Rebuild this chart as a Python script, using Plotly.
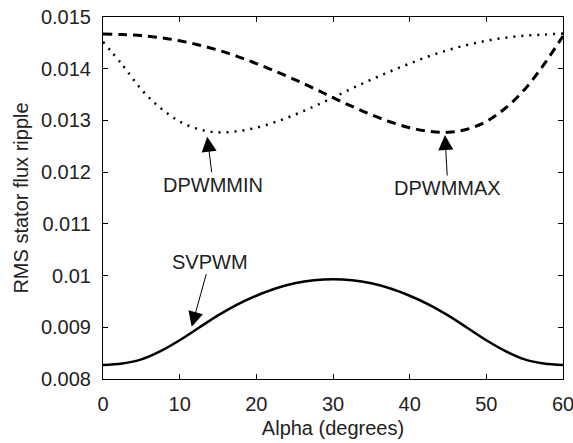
import plotly.graph_objects as go

alpha = [0, 2.5, 5, 7.5, 10, 12.5, 15, 17.5, 20, 22.5, 25, 27.5, 30,
         32.5, 35, 37.5, 40, 42.5, 45, 47.5, 50, 52.5, 55, 57.5, 60]

svpwm = [0.00827, 0.00830, 0.00838, 0.00854, 0.00875, 0.00899, 0.00923,
         0.00944, 0.00961, 0.00975, 0.00985, 0.00991, 0.00993,
         0.00991, 0.00985, 0.00975, 0.00961, 0.00944, 0.00923,
         0.00899, 0.00875, 0.00854, 0.00838, 0.00830, 0.00827]

dpwmmax = [0.01467, 0.01466, 0.01464, 0.01460, 0.01454, 0.01446, 0.01436,
           0.01424, 0.01410, 0.01395, 0.01379, 0.01362, 0.01344,
           0.01327, 0.01311, 0.01297, 0.01286, 0.01279, 0.01277,
           0.01283, 0.01298, 0.01324, 0.01360, 0.01408, 0.01463]

dpwmmin = [0.01452, 0.01408, 0.01360, 0.01324, 0.01298, 0.01283, 0.01277,
           0.01279, 0.01286, 0.01297, 0.01311, 0.01327, 0.01344,
           0.01362, 0.01379, 0.01395, 0.01410, 0.01424, 0.01436,
           0.01446, 0.01454, 0.01460, 0.01464, 0.01466, 0.01468]

x_ticks = [0, 10, 20, 30, 40, 50, 60]
y_ticks = [0.008, 0.009, 0.01, 0.011, 0.012, 0.013, 0.014, 0.015]
y_tick_text = ["0.008", "0.009", "0.01", "0.011", "0.012", "0.013", "0.014", "0.015"]

FONT = "Liberation Sans, Arial, sans-serif"
TXT = "#222222"

fig = go.Figure()
fig.add_trace(go.Scatter(x=alpha, y=svpwm, mode="lines", line=dict(color="black", width=2.5), line_shape="spline", name="SVPWM"))
fig.add_trace(go.Scatter(x=alpha, y=dpwmmax, mode="lines", line=dict(color="black", width=3, dash="9px,6px"), line_shape="spline", name="DPWMMAX"))
fig.add_trace(go.Scatter(x=alpha, y=dpwmmin, mode="lines", line=dict(color="black", width=2.5, dash="2px,6px"), line_shape="spline", name="DPWMMIN"))

ann_common = dict(showarrow=True, arrowhead=2, arrowsize=3, arrowwidth=1, arrowcolor="black",
                  font=dict(family=FONT, size=20, color=TXT))
fig.add_annotation(x=13.6, y=0.012685, ax=6, ay=48, text="DPWMMIN", **ann_common)
fig.add_annotation(x=44.6, y=0.012718, ax=3, ay=53, text="DPWMMAX", **ann_common)
fig.add_annotation(x=11.57, y=0.009012, ax=18, ay=-65, text="SVPWM", **ann_common)

axis_common = dict(showline=True, linecolor="black", linewidth=1, mirror="ticks",
                   ticks="inside", ticklen=5, tickcolor="black", showgrid=False, zeroline=False,
                   automargin=False, ticklabelstandoff=7, ticklabeloverflow="allow",
                   tickfont=dict(family=FONT, size=20, color=TXT))
fig.update_xaxes(range=[0, 60], tickvals=x_ticks,
                 title=dict(text="Alpha (degrees)", font=dict(family=FONT, size=20, color=TXT), standoff=6), **axis_common)
fig.update_yaxes(range=[0.008, 0.015], tickvals=y_ticks, ticktext=y_tick_text,
                 title=dict(text="RMS stator flux ripple", font=dict(family=FONT, size=20, color=TXT), standoff=6), **axis_common)

fig.update_layout(width=573, height=443, margin=dict(l=103, r=10, t=17, b=64),
                  plot_bgcolor="white", paper_bgcolor="white", showlegend=False)

fig.write_html("out.html", config={"displayModeBar": False},
               post_script="document.body.style.margin='0';document.body.style.overflow='hidden';")
